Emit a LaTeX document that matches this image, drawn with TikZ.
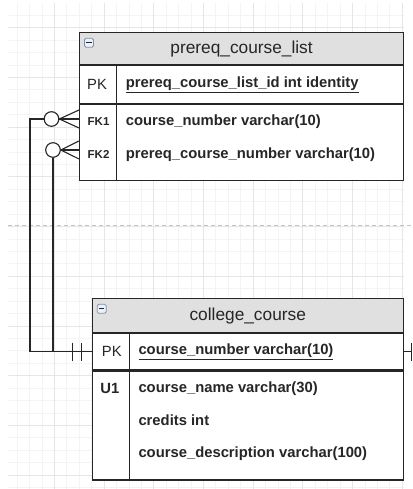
\documentclass[tikz,border=0pt]{standalone}
\usepackage{fontspec}
\setmainfont{Liberation Sans}
\usepackage{xcolor}
\definecolor{line-dark}{RGB}{38,38,38}
\definecolor{head-fill}{RGB}{224,224,224}
\definecolor{grid-minor}{RGB}{244,244,244}
\definecolor{grid-major}{RGB}{230,230,230}
\definecolor{break-grey}{RGB}{196,196,196}
\definecolor{icon-border}{RGB}{125,145,170}
\definecolor{icon-fill}{RGB}{236,241,247}
\usetikzlibrary{positioning,calc}

\begin{document}
\begin{tikzpicture}[
  x=1pt, y=1pt,
  tablehead/.style={
    rectangle,
    draw=line-dark,
    fill=head-fill,
    line width=1.1pt,
    inner sep=0pt,
    anchor=north west,
    font=\fontsize{17.3}{20}\selectfont,
    text=line-dark
  },
  rowbox/.style={
    rectangle,
    draw=line-dark,
    fill=white,
    line width=1.1pt,
    inner sep=0pt,
    anchor=north west
  },
  keytext/.style={
    anchor=west,
    inner sep=0pt,
    font=\fontsize{14.8}{17}\selectfont,
    text=line-dark
  },
  fktext/.style={
    keytext,
    font=\fontsize{11.5}{13}\selectfont\bfseries
  },
  fieldtext/.style={
    keytext,
    font=\fontsize{14.8}{17}\selectfont\bfseries
  },
  minusicon/.style={
    rectangle,
    rounded corners=1.5pt,
    draw=icon-border,
    fill=icon-fill,
    line width=0.8pt,
    minimum size=9pt,
    inner sep=0pt,
    path picture={\draw[line-dark, line width=1.3pt]
      ([xshift=-2.6pt]path picture bounding box.center) --
      ([xshift=2.6pt]path picture bounding box.center);}
  },
  fkring/.style={
    circle,
    draw=line-dark,
    fill=white,
    line width=1.1pt,
    minimum size=14.6pt,
    inner sep=0pt
  },
  link/.style={
    draw=line-dark,
    line width=1.1pt
  }
]

\useasboundingbox (0,0) rectangle (412,489);

% Canvas grid and page break
\begin{scope}[shift={(4.6,14)}]
  \draw[grid-minor, line width=0.7pt, step=12.425] (3.4,-14) grid (399.4,472);
  \draw[grid-major, line width=0.7pt, step=49.7] (3.4,-14) grid (399.4,472);
\end{scope}
\draw[break-grey, line width=0.8pt, dash pattern=on 4pt off 3pt] (8,264) -- (412,264);

% prereq_course_list table
\node[tablehead, minimum width=324pt, minimum height=32pt] (prereqhead) at (79,456.7) {prereq\_course\_list};
\node[minusicon] at ([xshift=10pt,yshift=-10.5pt]prereqhead.north west) {};
\node[rowbox, minimum width=324pt, minimum height=37.4pt, below=0pt of prereqhead.south west, anchor=north west] (prereqpk) {};
\node[rowbox, minimum width=324pt, minimum height=76.3pt, below=0pt of prereqpk.south west, anchor=north west] (prereqattr) {};
\draw[link] ([xshift=37.7pt]prereqpk.north west) -- ([xshift=37.7pt]prereqattr.south west);

\node[keytext] (prereqpkkey) at ([xshift=8pt]prereqpk.west) {PK};
\node[fieldtext] (prereqpkfield) at ([xshift=46.7pt]prereqpk.west) {\underline{prereq\_course\_list\_id int identity}};
\node[fktext] (prereqfkonekey) at ([xshift=8.5pt,yshift=-18pt]prereqattr.north west) {FK1};
\node[fieldtext] (prereqfkonefield) at ([xshift=46.7pt,yshift=-18pt]prereqattr.north west) {course\_number varchar(10)};
\node[fktext] (prereqfktwokey) at ([xshift=8.5pt,yshift=-50.5pt]prereqattr.north west) {FK2};
\node[fieldtext] (prereqfktwofield) at ([xshift=46.7pt,yshift=-50.5pt]prereqattr.north west) {prereq\_course\_number varchar(10)};

% college_course table
\node[tablehead, minimum width=311pt, minimum height=33.4pt] (coursehead) at (91.7,190.7) {college\_course};
\node[minusicon] at ([xshift=10pt,yshift=-10.5pt]coursehead.north west) {};
\node[rowbox, minimum width=311pt, minimum height=36.6pt, below=0pt of coursehead.south west, anchor=north west] (coursepk) {};
\node[rowbox, minimum width=311pt, minimum height=109pt, below=0pt of coursepk.south west, anchor=north west] (courseattr) {};
\draw[link] ([xshift=37.6pt]coursepk.north west) -- ([xshift=37.6pt]courseattr.south west);

\node[keytext] (coursepkkey) at ([xshift=10pt]coursepk.west) {PK};
\node[fieldtext] (coursepkfield) at ([xshift=46.6pt]coursepk.west) {\underline{course\_number varchar(10)}};
\node[fieldtext] (courseukey) at ([xshift=8.5pt,yshift=-18.4pt]courseattr.north west) {U1};
\node[fieldtext] (coursename) at ([xshift=46.6pt,yshift=-18.4pt]courseattr.north west) {course\_name varchar(30)};
\node[fieldtext] (coursecredits) at ([xshift=46.6pt,yshift=-50pt]courseattr.north west) {credits int};
\node[fieldtext] (coursedesc) at ([xshift=46.6pt,yshift=-83.4pt]courseattr.north west) {course\_description varchar(100)};

% Relationship ends (zero-or-many)
\node[fkring] (fkonering) at (51.5,370) {};
\node[fkring] (fktworing) at (53,339) {};
\coordinate (fkonefoot) at (prereqattr.west |- fkonering);
\coordinate (fktwofoot) at (prereqattr.west |- fktworing);
\draw[link] (fkonering.east) -- ([yshift=9pt]fkonefoot);
\draw[link] (fkonering.east) -- (fkonefoot);
\draw[link] (fkonering.east) -- ([yshift=-9pt]fkonefoot);
\draw[link] (fktworing.east) -- ([yshift=9pt]fktwofoot);
\draw[link] (fktworing.east) -- (fktwofoot);
\draw[link] (fktworing.east) -- ([yshift=-9pt]fktwofoot);

% Links to college_course (one and only one)
\draw[link] (fkonering.west) -| ([xshift=-61.7pt]coursepk.west) -- (coursepk.west);
\draw[link] (fktworing.south) |- (coursepk.west);
\draw[link] ([xshift=-19pt,yshift=9pt]coursepk.west) -- ([xshift=-19pt,yshift=-9pt]coursepk.west);
\draw[link] ([xshift=-10pt,yshift=9pt]coursepk.west) -- ([xshift=-10pt,yshift=-9pt]coursepk.west);

% Stub on the right
\coordinate (stubend) at (412,0 |- coursepk.east);
\draw[link] (coursepk.east) -- (stubend);
\draw[link, line width=0.8pt] ([xshift=8pt,yshift=9pt]coursepk.east) -- ([xshift=8pt,yshift=-9pt]coursepk.east);

\end{tikzpicture}
\end{document}
